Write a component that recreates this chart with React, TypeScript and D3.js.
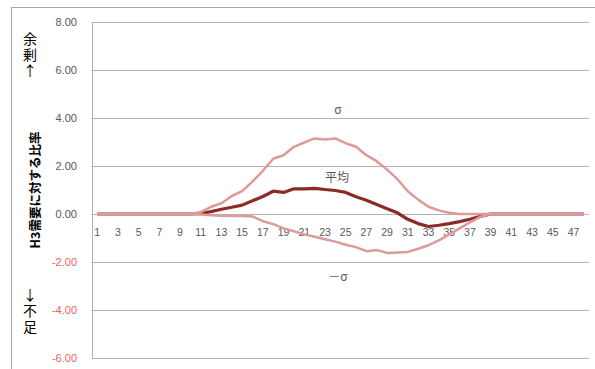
import React from "react";
import * as d3 from "d3";

const categories: number[] = d3.range(1, 49);
const meanValues: number[] = [
  0, 0, 0, 0, 0, 0, 0, 0, 0, 0,
  0.02, 0.1, 0.2, 0.28, 0.37, 0.55, 0.73, 0.95, 0.9, 1.05,
  1.05, 1.07, 1.02, 0.98, 0.9, 0.72, 0.57, 0.4, 0.22, 0.05,
  -0.22, -0.4, -0.52, -0.47, -0.4, -0.32, -0.22, -0.1, 0, 0,
  0, 0, 0, 0, 0, 0, 0, 0,
];
const upperValues: number[] = [
  0, 0, 0, 0, 0, 0, 0, 0, 0, 0,
  0.08, 0.3, 0.45, 0.75, 0.95, 1.35, 1.8, 2.3, 2.45, 2.8,
  2.98, 3.15, 3.1, 3.15, 2.95, 2.8, 2.45, 2.2, 1.85, 1.45,
  0.95, 0.6, 0.3, 0.15, 0.05, 0, 0, 0, 0, 0,
  0, 0, 0, 0, 0, 0, 0, 0,
];
const lowerValues: number[] = [
  0, 0, 0, 0, 0, 0, 0, 0, 0, 0,
  -0.02, -0.05, -0.07, -0.08, -0.08, -0.1, -0.3, -0.42, -0.6, -0.72,
  -0.85, -0.95, -1.05, -1.15, -1.28, -1.38, -1.55, -1.5, -1.62, -1.6,
  -1.58, -1.45, -1.3, -1.1, -0.85, -0.6, -0.35, -0.12, 0, 0,
  0, 0, 0, 0, 0, 0, 0, 0,
];
const yTicks: number[] = [8, 6, 4, 2, 0, -2, -4, -6];
const yTitle = "H3需要に対する比率";
const topNote = "余剰↑";
const bottomNote = "↓不足";
const labelUpper = "σ";
const labelMean = "平均";
const labelLower = "－σ";

const W = 595;
const H = 369;
const plot = { left: 92, right: 589, top: 22, bottom: 358 };

export default function App() {
  const x = d3
    .scaleBand<number>()
    .domain(categories)
    .range([plot.left, plot.right]);
  const y = d3.scaleLinear().domain([-6, 8]).range([plot.bottom, plot.top]);
  const cx = (c: number) => (x(c) as number) + x.bandwidth() / 2;

  const line = d3
    .line<number>()
    .x((_, i) => cx(categories[i]))
    .y((d) => y(d));

  const font = "'Liberation Sans', Arial, sans-serif";
  const cjk = "'Noto Sans CJK JP', sans-serif";
  const grid = "#b3b3b3";
  const vertical: React.CSSProperties = {
    writingMode: "vertical-rl",
    textOrientation: "upright",
  } as React.CSSProperties;

  return (
    <svg
      width={W}
      height={H}
      style={{ position: "absolute", left: 0, top: 0, background: "#fff" }}
    >
      <rect x={11.5} y={7.5} width={620} height={400} fill="#fff" stroke="#a6a6a6" />
      {yTicks.map((t) => (
        <g key={t}>
          <line
            x1={plot.left}
            x2={plot.right}
            y1={Math.round(y(t)) + 0.5}
            y2={Math.round(y(t)) + 0.5}
            stroke={grid}
            strokeWidth={1}
          />
          <text
            x={77}
            y={y(t) + 4}
            textAnchor="end"
            fontFamily={font}
            fontSize={11}
            fill={t < 0 ? "#f46060" : "#595959"}
          >
            {t.toFixed(2)}
          </text>
        </g>
      ))}
      <line
        x1={plot.left + 0.5}
        x2={plot.left + 0.5}
        y1={plot.top}
        y2={plot.bottom}
        stroke={grid}
      />
      {categories
        .filter((c) => c % 2 === 1)
        .map((c) => (
          <text
            key={c}
            x={cx(c)}
            y={236}
            textAnchor="middle"
            fontFamily={font}
            fontSize={10.5}
            fill="#595959"
          >
            {c}
          </text>
        ))}
      <path d={line(meanValues) || ""} fill="none" stroke="#8c2a28" strokeWidth={3.2} strokeLinejoin="round" />
      <path d={line(upperValues) || ""} fill="none" stroke="#dc9a98" strokeWidth={2.5} strokeLinejoin="round" />
      <path d={line(lowerValues) || ""} fill="none" stroke="#dc9a98" strokeWidth={2.5} strokeLinejoin="round" />
      <text
        transform={`translate(40,190) rotate(-90)`}
        textAnchor="middle"
        fontFamily={cjk}
        fontWeight="bold"
        fontSize={12.5}
        fill="#000"
      >
        {yTitle}
      </text>
      <text x={30} y={32} style={vertical} fontFamily={cjk} fontSize={14} letterSpacing={2} fill="#000">
        {topNote}
      </text>
      <text x={30} y={288} style={vertical} fontFamily={cjk} fontSize={14} letterSpacing={2} fill="#000">
        {bottomNote}
      </text>
      <text x={338} y={114} textAnchor="middle" fontFamily={cjk} fontSize={12} fill="#595959">
        {labelUpper}
      </text>
      <text x={337} y={182} textAnchor="middle" fontFamily={cjk} fontSize={12} fill="#595959">
        {labelMean}
      </text>
      <text x={338} y={281} textAnchor="middle" fontFamily={cjk} fontSize={12} fill="#595959">
        {labelLower}
      </text>
    </svg>
  );
}
